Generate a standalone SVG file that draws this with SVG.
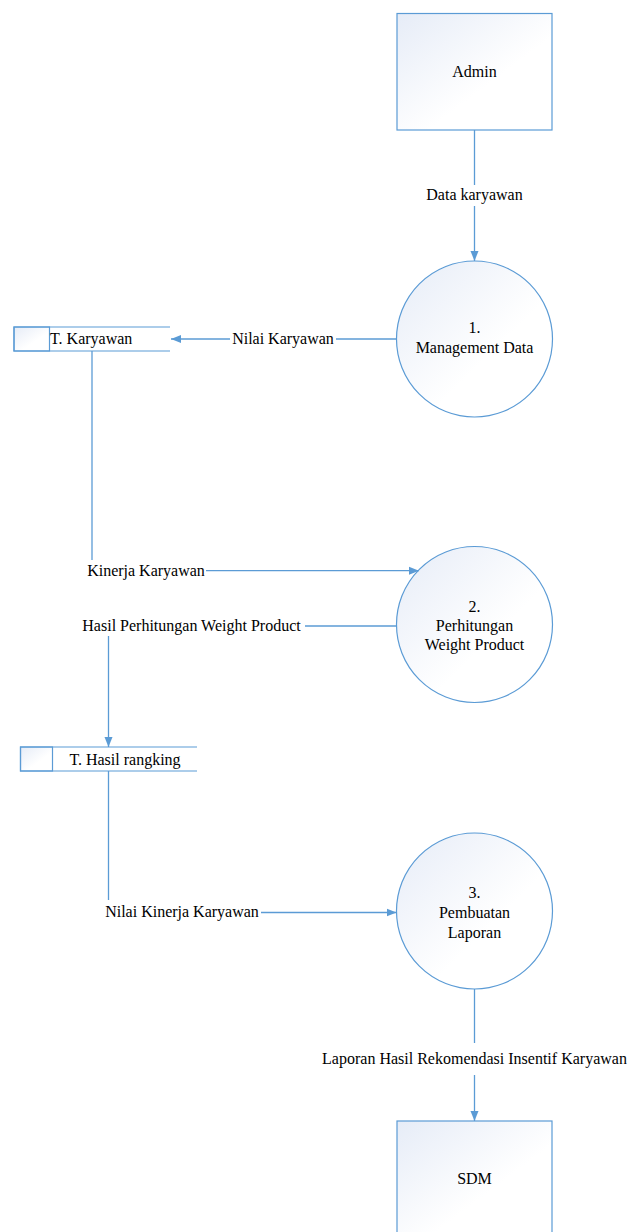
<svg xmlns="http://www.w3.org/2000/svg" width="633" height="1232" viewBox="0 0 633 1232">
  <defs>
    <linearGradient id="fillGrad" x1="0" y1="0" x2="1" y2="1">
      <stop offset="0" stop-color="#e6ecf7"/>
      <stop offset="0.6" stop-color="#ffffff"/>
    </linearGradient>
    <marker id="arrow" viewBox="0 0 10 10" refX="10" refY="5" markerWidth="10" markerHeight="10" markerUnits="userSpaceOnUse" orient="auto">
      <path d="M0,1 L10,5 L0,9 Z" fill="#5b9bd5"/>
    </marker>
  </defs>

  <!-- external entities -->
  <g id="admin">
    <rect x="397" y="13.5" width="155" height="116.5" fill="url(#fillGrad)" stroke="#5b9bd5" stroke-width="1.2"/>
    <text x="474.5" y="77" font-family="Times New Roman" font-size="16" text-anchor="middle">Admin</text>
  </g>
  <g id="sdm">
    <rect x="397" y="1121" width="155" height="117" fill="url(#fillGrad)" stroke="#5b9bd5" stroke-width="1.2"/>
    <text x="474.5" y="1184" font-family="Times New Roman" font-size="16" text-anchor="middle">SDM</text>
  </g>

  <!-- processes -->
  <g id="p1">
    <circle cx="474.5" cy="339" r="78" fill="url(#fillGrad)" stroke="#5b9bd5" stroke-width="1.2"/>
    <text x="474.5" y="333" font-family="Times New Roman" font-size="16" text-anchor="middle">1.</text>
    <text x="474.5" y="352.5" font-family="Times New Roman" font-size="16" text-anchor="middle">Management Data</text>
  </g>
  <g id="p2">
    <circle cx="474.5" cy="624.5" r="78" fill="url(#fillGrad)" stroke="#5b9bd5" stroke-width="1.2"/>
    <text x="474.5" y="611.5" font-family="Times New Roman" font-size="16" text-anchor="middle">2.</text>
    <text x="474.5" y="631" font-family="Times New Roman" font-size="16" text-anchor="middle">Perhitungan</text>
    <text x="474.5" y="650" font-family="Times New Roman" font-size="16" text-anchor="middle">Weight Product</text>
  </g>
  <g id="p3">
    <circle cx="474.5" cy="911" r="78" fill="url(#fillGrad)" stroke="#5b9bd5" stroke-width="1.2"/>
    <text x="474.5" y="898" font-family="Times New Roman" font-size="16" text-anchor="middle">3.</text>
    <text x="474.5" y="918" font-family="Times New Roman" font-size="16" text-anchor="middle">Pembuatan</text>
    <text x="474.5" y="937.5" font-family="Times New Roman" font-size="16" text-anchor="middle">Laporan</text>
  </g>

  <!-- data stores -->
  <g id="t-karyawan">
    <rect x="14" y="327" width="35.5" height="24" fill="url(#fillGrad)" stroke="#5b9bd5" stroke-width="1.2"/>
    <path d="M170,327 H14 V351 H170" fill="none" stroke="#5b9bd5" stroke-width="1.2"/>
    <text x="50" y="344" font-family="Times New Roman" font-size="16">T. Karyawan</text>
  </g>
  <g id="t-hasil-rangking">
    <rect x="20.5" y="747" width="32" height="24" fill="url(#fillGrad)" stroke="#5b9bd5" stroke-width="1.2"/>
    <path d="M197,747 H20.5 V771 H197" fill="none" stroke="#5b9bd5" stroke-width="1.2"/>
    <text x="125" y="765" font-family="Times New Roman" font-size="16" text-anchor="middle">T. Hasil rangking</text>
  </g>

  <!-- data flows -->
  <g id="connectors" fill="none" stroke="#5b9bd5" stroke-width="1.3">
    <line x1="474.5" y1="130" x2="474.5" y2="185"/>
    <line x1="474.5" y1="206" x2="474.5" y2="261" marker-end="url(#arrow)"/>
    <line x1="396.5" y1="339" x2="336" y2="339"/>
    <line x1="230" y1="339" x2="171" y2="339" marker-end="url(#arrow)"/>
    <line x1="92" y1="351" x2="92" y2="560"/>
    <line x1="206" y1="570.7" x2="419" y2="570.7" marker-end="url(#arrow)"/>
    <line x1="396.5" y1="626" x2="305" y2="626"/>
    <line x1="108.5" y1="636" x2="108.5" y2="747" marker-end="url(#arrow)"/>
    <line x1="108.5" y1="771" x2="108.5" y2="900"/>
    <line x1="261" y1="912.5" x2="396.5" y2="912.5" marker-end="url(#arrow)"/>
    <line x1="474.5" y1="989" x2="474.5" y2="1043"/>
    <line x1="474.5" y1="1075" x2="474.5" y2="1121" marker-end="url(#arrow)"/>
  </g>

  <!-- flow labels -->
  <g id="flow-labels">
    <text x="474.5" y="200" font-family="Times New Roman" font-size="16" text-anchor="middle">Data karyawan</text>
    <text x="283" y="343.5" font-family="Times New Roman" font-size="16" text-anchor="middle">Nilai Karyawan</text>
    <text x="146" y="575.5" font-family="Times New Roman" font-size="16" text-anchor="middle">Kinerja Karyawan</text>
    <text x="191.5" y="630.5" font-family="Times New Roman" font-size="16" text-anchor="middle">Hasil Perhitungan Weight Product</text>
    <text x="182" y="917" font-family="Times New Roman" font-size="16" text-anchor="middle">Nilai Kinerja Karyawan</text>
    <text x="474.5" y="1064" font-family="Times New Roman" font-size="16" text-anchor="middle">Laporan Hasil Rekomendasi Insentif Karyawan</text>
  </g>
</svg>
